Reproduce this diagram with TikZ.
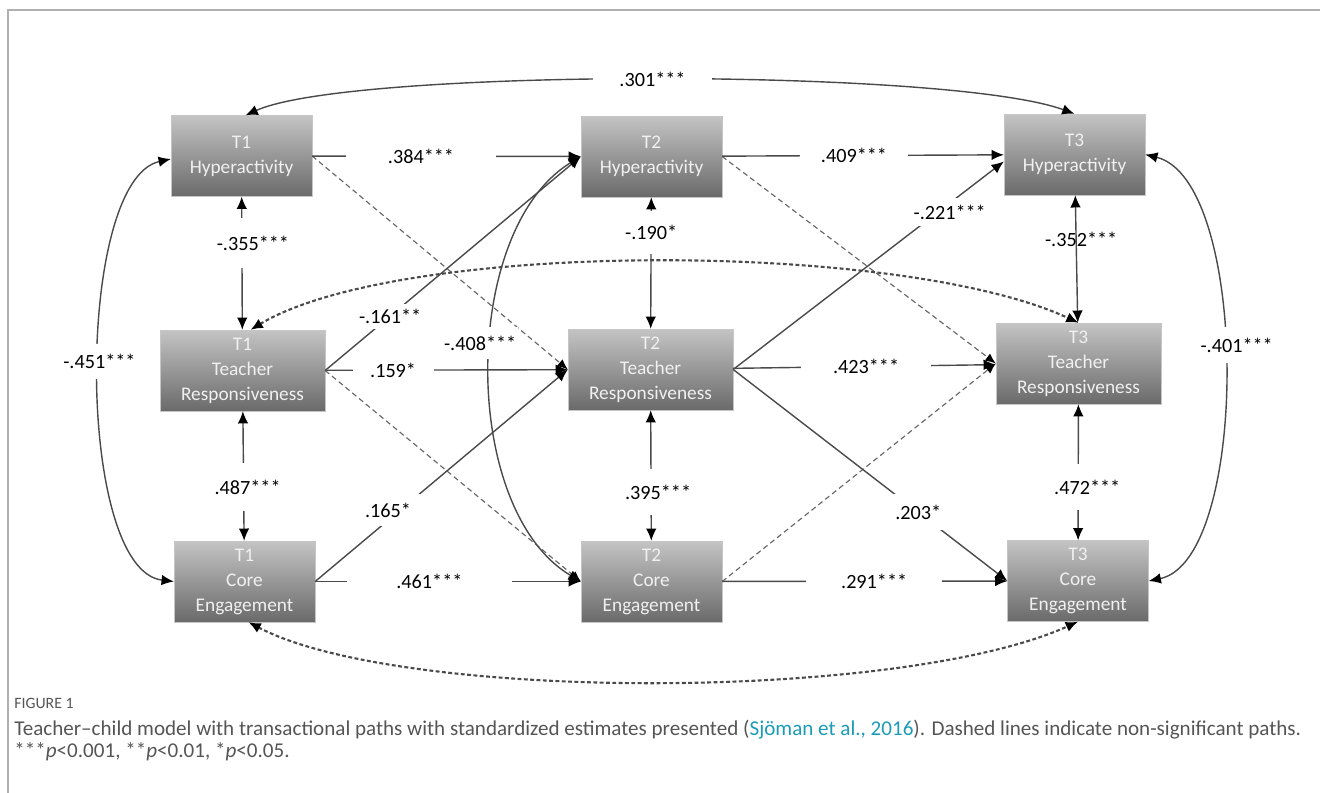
\documentclass[tikz,border=0pt]{standalone}
\usepackage{fontspec}
\setmainfont{Carlito}
\usepackage{tikz}
\usetikzlibrary{arrows.meta,positioning,calc}
\definecolor{boxtop}{HTML}{C4C4C4}
\definecolor{boxbot}{HTML}{6A6A6A}
\definecolor{pathgray}{HTML}{4A4A4A}
\definecolor{capgray}{HTML}{555555}
\definecolor{citeblue}{HTML}{1A9BB8}
\definecolor{framegray}{HTML}{B0B0B0}
\tikzstyle{var}=[rectangle,draw=gray!45,very thin,top color=boxtop,bottom color=boxbot,text=white!88!gray,align=center,inner sep=0pt,minimum height=1.62cm,font=\fontsize{11}{14.2}\selectfont]
\tikzstyle{hyp}=[var,minimum width=2.82cm]
\tikzstyle{resp}=[var,minimum width=3.3cm]
\tikzstyle{coef}=[->,>={Latex[length=7pt,width=6pt,color=black]},draw=pathgray,line width=0.8pt]
\tikzstyle{cov}=[coef,<->]
\tikzstyle{ns}=[->,>={Latex[length=6pt,width=5pt,color=black]},draw=gray!80!black,line width=0.65pt,dash pattern=on 3pt off 2pt]
\tikzstyle{nscov}=[<->,>={Latex[length=7pt,width=6pt,color=black]},draw=pathgray,line width=1.2pt,dash pattern=on 2.2pt off 1.4pt]
\tikzstyle{est}=[fill=white,inner sep=1pt,text=black,font=\fontsize{11.5}{13}\selectfont]
\tikzstyle{capt}=[anchor=west,inner sep=0pt,text=capgray,font=\fontsize{12}{14}\selectfont]

\begin{document}
\begin{tikzpicture}[x=0.02cm,y=-0.02cm]
    \useasboundingbox (0,0) rectangle (1320,793);
    \draw[framegray,line width=1pt] (8,793) -- (8,10) -- (1320,10);

    % Knoten
    \node[hyp]  (T1H) at (241.5,156)   {T1\\Hyperactivity};
    \node[hyp]  (T2H) at (651.5,156.5) {T2\\Hyperactivity};
    \node[hyp]  (T3H) at (1074.5,154.5) {T3\\Hyperactivity};
    \node[resp] (T1R) at (242.5,370.5) {T1\\Teacher\\Responsiveness};
    \node[resp] (T2R) at (650.5,369.5) {T2\\Teacher\\Responsiveness};
    \node[resp] (T3R) at (1078.5,363.5) {T3\\Teacher\\Responsiveness};
    \node[hyp]  (T1E) at (244.5,581.5) {T1\\Core\\Engagement};
    \node[hyp]  (T2E) at (651.5,581.5) {T2\\Core\\Engagement};
    \node[hyp]  (T3E) at (1078,581)    {T3\\Core\\Engagement};

    % nicht signifikant
    \draw [ns] (T1H.east) to (T2R.west);
    \draw [ns] (T1R.east) to (T2E.west);
    \draw [ns] (T2H.east) to (T3R.west);
    \draw [ns] (T2E.east) to (T3R.west);
    \draw [nscov] ($(T1R.north)+(8,0)$) .. controls (400,240) and (900,240) .. (T3R.north);
    \draw [nscov] ($(T1E.south)+(4,0)$) .. controls (400,702) and (900,702) .. (T3E.south);

    % Stabilitaet
    \draw [coef] (T1H) to node[est,pos=0.405,inner xsep=24pt] {.384***} (T2H);
    \draw [coef] (T2H) to node[est,pos=0.468,inner xsep=12pt] {.409***} (T3H);
    \draw [coef] (T1R) to node[est,pos=0.28,inner xsep=10pt] {.159*} (T2R);
    \draw [coef] (T2R) to node[est,pos=0.506,inner xsep=18pt] {.423***} (T3R);
    \draw [coef] (T1E) to node[est,pos=0.43,inner xsep=28pt] {.461***} (T2E);
    \draw [coef] (T2E) to node[est,pos=0.533,inner xsep=20pt] {.291***} (T3E);

    % Kreuzpfade
    \draw [coef] (T1R.east) to node[est,pos=0.254,inner sep=3pt] {-.161**} (T2H.west);
    \draw [coef] (T1E.east) to node[est,pos=0.336,xshift=-0.24cm,inner sep=5pt] {.165*} (T2R.west);
    \draw [coef] (T2R.east) to node[est,pos=0.80,yshift=-0.18cm,inner sep=4pt] {-.221***} ($(T3H.west)+(0,7)$);
    \draw [coef] (T2R.east) to node[est,pos=0.675,inner sep=6pt] {.203*} (T3E.west);

    % Korrelationen
    \draw [cov] (T1H) to node[est,pos=0.35,xshift=0.22cm,inner ysep=10pt] {-.355***} (T1R);
    \draw [cov] (T1R) to node[est,pos=0.585,xshift=0.08cm,inner ysep=9.5pt] {.487***} (T1E);
    \draw [cov] (T2H) to node[est,pos=0.27,inner ysep=8pt] {-.190*} (T2R);
    \draw [cov] (T2R) to node[est,pos=0.626,xshift=0.14cm,inner ysep=9pt] {.395***} (T2E);
    \draw [cov] (T3H) to node[est,fill=none,pos=0.35,xshift=0.1cm] {-.352***} (T3R);
    \draw [cov] (T3R) to node[est,pos=0.61,xshift=0.18cm,inner ysep=9pt] {.472***} (T3E);
    \draw [cov] (T2H.west) .. controls (460,230) and (460,510) .. node[est,pos=0.45,xshift=-0.22cm,inner ysep=5pt] {-.408***} (T2E.west);
    \draw [cov] ($(T1H.north)+(4,0)$) .. controls (350,68) and (950,68) .. node[est,pos=0.5,inner xsep=15pt] {.301***} (T3H.north);
    \draw [cov] ($(T1H.west)+(0,3)$) .. controls (75,180) and (75,570) .. node[est,pos=0.48,inner ysep=6pt] {-.451***} (T1E.west);
    \draw [cov] (T3H.east) .. controls (1250,180) and (1250,560) .. node[est,pos=0.46,xshift=0.26cm,inner ysep=6pt] {-.401***} (T3E.east);

    % Legende
    \node[capt,font=\fontsize{9}{10}\selectfont] (fig) at (14,703) {FIGURE 1};
    \node[capt] (cap1) at (14,730) {Teacher--child model with transactional paths with standardized estimates presented (\textcolor{citeblue}{Sjöman et al., 2016}). Dashed lines indicate non-significant paths.};
    \node[capt] (cap2) at (14,752) {***\textit{p}<0.001, **\textit{p}<0.01, *\textit{p}<0.05.};

\end{tikzpicture}
\end{document}
